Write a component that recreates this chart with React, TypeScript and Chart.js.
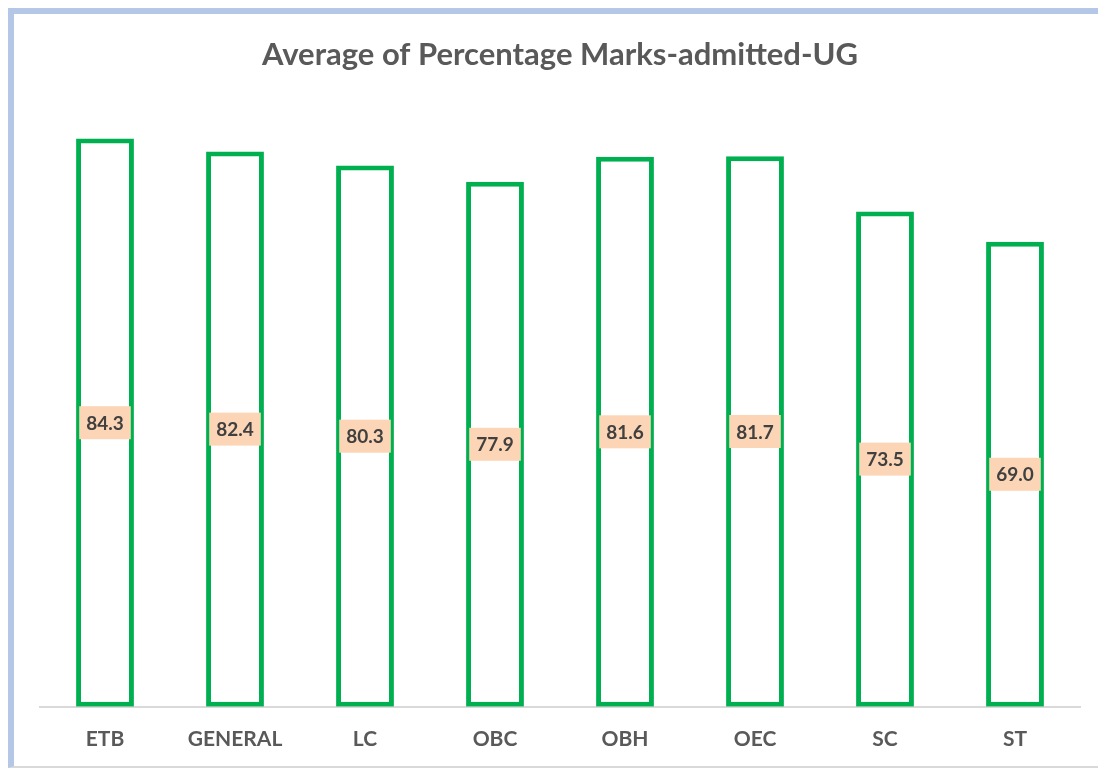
import React, { useEffect, useRef } from "react";
import { Chart, registerables } from "chart.js";

Chart.register(...registerables);

const categories = ["ETB", "GENERAL", "LC", "OBC", "OBH", "OEC", "SC", "ST"];
const values = [84.3, 82.4, 80.3, 77.9, 81.6, 81.7, 73.5, 69.0];
const title = "Average of Percentage Marks-admitted-UG";

const FONT = "Lato, 'Open Sans', sans-serif";

const labelPlugin = {
  id: "centerLabels",
  afterDatasetsDraw(chart: any) {
    const ctx = chart.ctx;
    const meta = chart.getDatasetMeta(0);
    ctx.save();
    ctx.font = `bold 19px ${FONT}`;
    ctx.textAlign = "center";
    ctx.textBaseline = "middle";
    meta.data.forEach((bar: any, i: number) => {
      const txt = values[i].toFixed(1);
      const x = bar.x;
      const y = (bar.y + bar.base) / 2;
      const w = ctx.measureText(txt).width + 14;
      const h = 33;
      ctx.fillStyle = "#FBD5B5";
      ctx.fillRect(x - w / 2, y - h / 2, w, h);
      ctx.fillStyle = "#404040";
      ctx.fillText(txt, x, y + 1);
    });
    ctx.restore();
  },
};

export default function App() {
  const ref = useRef<HTMLCanvasElement>(null);
  useEffect(() => {
    if (!ref.current) return;
    const chart = new Chart(ref.current, {
      type: "bar",
      data: {
        labels: categories,
        datasets: [
          {
            data: values,
            backgroundColor: "#ffffff",
            borderColor: "#00B050",
            borderWidth: 5,
            borderSkipped: false,
            categoryPercentage: 1,
            barPercentage: 0.445,
          },
        ],
      },
      options: {
        responsive: false,
        animation: false,
        layout: { padding: { left: 26, right: 22, top: 0, bottom: 0 } },
        plugins: {
          legend: { display: false },
          tooltip: { enabled: false },
          title: {
            display: true,
            text: title,
            color: "#595959",
            font: { family: FONT, size: 31, weight: "bold" },
            padding: { top: 22, bottom: 27 },
          },
        },
        scales: {
          x: {
            grid: { display: false, drawTicks: false },
            border: { display: true, color: "#d9d9d9", width: 2 },
            ticks: {
              color: "#595959",
              font: { family: FONT, size: 21, weight: "bold" },
              padding: 20,
            },
          },
          y: {
            display: false,
            min: 0,
            max: 90,
          },
        },
      },
      plugins: [labelPlugin],
    });
    return () => chart.destroy();
  }, []);
  return (
    <div
      style={{
        position: "relative",
        width: 1090,
        height: 752,
        overflow: "hidden",
        borderTop: "6px solid #B4C7E7",
        borderLeft: "6px solid #B4C7E7",
        borderRight: "2px solid #D9D9D9",
        borderBottom: "2px solid #D9D9D9",
        background: "#fff",
      }}
    >
      <canvas ref={ref} width={1088} height={758} style={{ display: "block", position: "absolute", left: 0, top: 0 }} />
    </div>
  );
}
